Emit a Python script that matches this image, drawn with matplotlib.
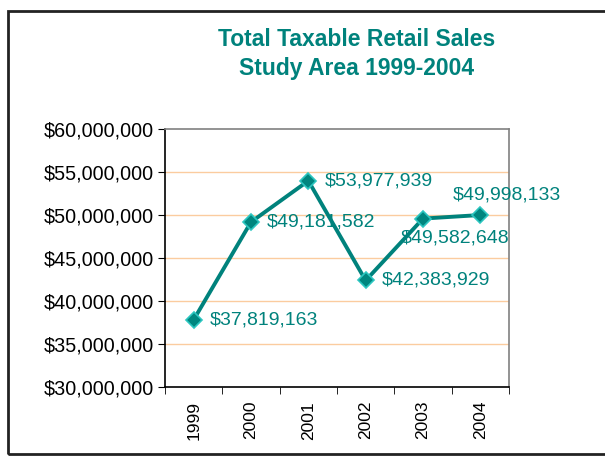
import matplotlib
matplotlib.use("Agg")
import matplotlib.pyplot as plt
from matplotlib.patches import Rectangle
from matplotlib.ticker import FuncFormatter

plt.rcParams['font.family'] = ['Liberation Sans', 'DejaVu Sans']

# 数据
years = ['1999', '2000', '2001', '2002', '2003', '2004']
sales = [37819163, 49181582, 53977939, 42383929, 49582648, 49998133]
# 标签偏移（像素）
offsets = [(16, 0), (16, 0), (16, 0), (16, 0), (-22, -19), (-28, 20)]

teal = '#00827c'

fig = plt.figure(figsize=(6.05, 4.62), dpi=100)
fig.patch.set_facecolor('white')

# 外框
fig.add_artist(Rectangle((8 / 605, 8 / 462), 1.2, 443 / 462, transform=fig.transFigure,
                         fill=False, edgecolor='#222222', linewidth=2))

fig.text(357 / 605, 1 - 40 / 462, 'Total Taxable Retail Sales', ha='center', va='center',
         fontsize=16.5, fontweight='bold', color=teal)
fig.text(357 / 605, 1 - 68 / 462, 'Study Area 1999-2004', ha='center', va='center',
         fontsize=16.5, fontweight='bold', color=teal)

ax = fig.add_axes([165 / 605, 75 / 462, 344 / 605, 258 / 462])
x = [i + 0.5 for i in range(len(years))]
ax.plot(x, sales, color=teal, linewidth=2.8, marker='D', markersize=8.5,
        markerfacecolor='#00867f', markeredgecolor='#2cc6c0', markeredgewidth=1.2, zorder=3)

for xi, v, off in zip(x, sales, offsets):
    ax.annotate('${:,}'.format(v), (xi, v), xytext=off, textcoords='offset pixels',
                ha='left', va='center', fontsize=14, color=teal)

ax.set_xlim(0, 6)
ax.set_ylim(30000000, 60000000)
ax.set_yticks(range(30000000, 60000001, 5000000))
ax.yaxis.set_major_formatter(FuncFormatter(lambda v, p: '${:,.0f}'.format(v)))
for yv in range(35000000, 60000000, 5000000):
    ax.axhline(yv, color='#fbcc9f', linewidth=1, zorder=1)

ax.set_xticks(x)
ax.set_xticklabels(years, rotation=90)
ax.set_xticks(range(0, 7), minor=True)
ax.tick_params(axis='x', which='major', length=0, pad=10, labelsize=12.5)
ax.tick_params(axis='x', which='minor', length=5, direction='out', color='black')
ax.tick_params(axis='y', length=5, direction='out', labelsize=14.2, pad=3)

ax.spines['left'].set_color('black')
ax.spines['bottom'].set_color('black')
ax.spines['top'].set_color('#808080')
ax.spines['right'].set_color('#808080')
for s in ax.spines.values():
    s.set_linewidth(1.2)

fig.savefig('out.png', dpi=100)
